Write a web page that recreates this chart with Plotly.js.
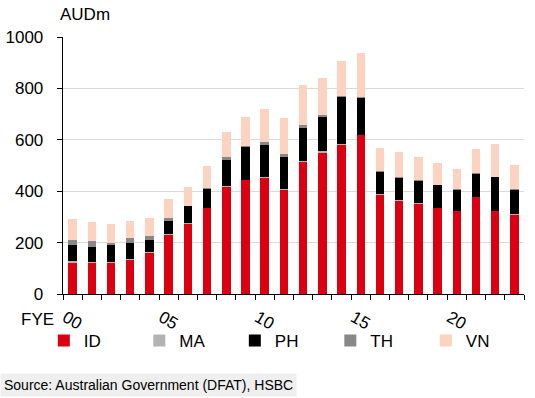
<!DOCTYPE html>
<html>
<head>
<meta charset="utf-8">
<script src="https://cdn.plot.ly/plotly-3.0.1.min.js"></script>
<style>html,body{margin:0;padding:0;background:#fff;}#chart{width:535px;height:398px;}</style>
</head>
<body>
<div id="chart"></div>
<script>
// Fiscal years (FYE)
const years = ["2000","2001","2002","2003","2004","2005","2006","2007","2008","2009","2010","2011",
               "2012","2013","2014","2015","2016","2017","2018","2019","2020","2021","2022","2023"];
const xTickLabels = ["00","","","","","05","","","","","10","","","","","15","","","","","20","","",""];

// AUDm by country
const ID = [122,122,122,134,160,230,274,334,418,443,450,406,515,550,581,617,387,363,352,334,322,377,322,309];
const MA = [5,2,2,2,2,2,2,2,2,2,4,3,2,6,2,2,2,2,2,2,2,2,2,2];
const PH = [62,57,65,64,50,54,66,73,100,126,127,123,130,134,184,142,87,88,87,87,81,87,130,94];
const TH = [23,25,11,19,12,11,2,2,12,4,12,13,10,5,2,5,2,2,2,2,2,3,2,2];
const VN = [79,74,73,66,73,74,74,86,97,115,127,139,155,146,138,172,90,96,90,84,78,95,126,95];

const seriesNames = ["ID","MA","PH","TH","VN"];
const seriesValues = [ID, MA, PH, TH, VN];
const seriesColors = ["#db0011","#b3b3b3","#000000","#888888","#fbd3c0"];

const traces = seriesNames.map((name, i) => ({
  type: "bar",
  name: name,
  x: years,
  y: seriesValues[i],
  marker: {color: seriesColors[i], line: {width: 0}},
  hovertemplate: name + " %{x}: %{y}<extra></extra>"
}));

const font = {family: "Liberation Sans, Arial, sans-serif", size: 16, color: "#000"};
const tickFont = {family: "Liberation Sans, Arial, sans-serif", size: 17, color: "#000"};

const layout = {
  width: 535, height: 398,
  margin: {l: 63, r: 11, t: 37, b: 104},
  paper_bgcolor: "#fff", plot_bgcolor: "#fff",
  barmode: "stack",
  bargap: 0.56,
  font: font,
  showlegend: true,
  legend: {
    orientation: "h",
    x: -0.0416, xanchor: "left",
    y: -0.183, yanchor: "middle",
    entrywidth: 50.5, entrywidthmode: "pixels",
    font: tickFont,
    traceorder: "normal",
    itemclick: false, itemdoubleclick: false,
    bgcolor: "rgba(0,0,0,0)"
  },
  xaxis: {
    type: "category",
    tickmode: "array",
    tickvals: years,
    ticktext: xTickLabels,
    tickson: "boundaries",
    ticks: "outside", ticklen: 5, tickcolor: "#000", tickwidth: 1,
    showline: true, linecolor: "#000", linewidth: 1.3,
    showgrid: false, zeroline: false,
    ticklabelstandoff: 6,
    ticklabelshift: -7,
    tickfont: tickFont,
    fixedrange: true
  },
  yaxis: {
    range: [0, 1000],
    dtick: 200, tick0: 0,
    ticks: "outside", ticklen: 5, tickcolor: "#000", tickwidth: 1,
    showline: true, linecolor: "#000", linewidth: 1.3,
    showgrid: true, gridcolor: "#d9d9d9", gridwidth: 1,
    zeroline: false,
    ticklabelstandoff: 10,
    tickfont: tickFont,
    fixedrange: true
  },
  annotations: [
    {text: "AUDm", xref: "paper", yref: "paper", x: 0.047, y: 1.089,
     xanchor: "center", yanchor: "middle", showarrow: false, font: tickFont},
    {text: "FYE", xref: "paper", yref: "paper", x: -0.056, y: -0.101,
     xanchor: "center", yanchor: "middle", showarrow: false, font: tickFont},
    {text: "Source: Australian Government (DFAT), HSBC", xref: "paper", yref: "paper",
     x: -0.1367, y: -0.354, xanchor: "left", yanchor: "middle", showarrow: false,
     bgcolor: "#efefef", borderpad: 3,
     font: {family: "Liberation Sans, Arial, sans-serif", size: 14, color: "#000"}}
  ]
};

Plotly.newPlot("chart", traces, layout, {displayModeBar: false, staticPlot: true});
</script>
</body>
</html>
